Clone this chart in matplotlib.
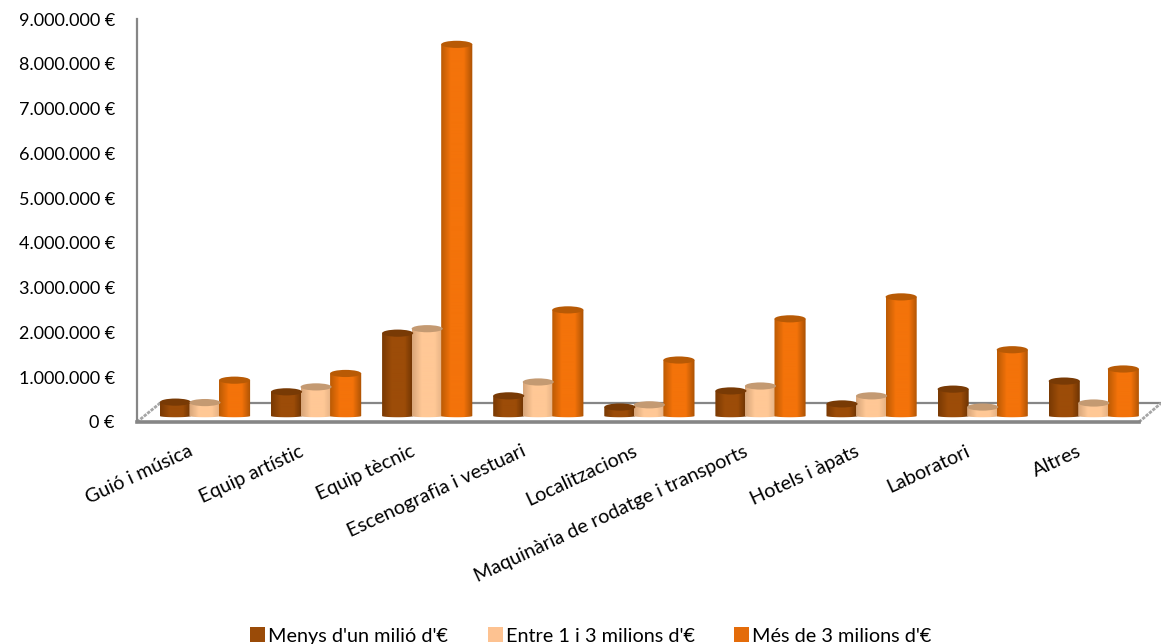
import numpy as np
import matplotlib
matplotlib.use('Agg')
import matplotlib.pyplot as plt
from matplotlib.colors import LinearSegmentedColormap
from matplotlib.patches import Ellipse, Polygon, Patch
from matplotlib.ticker import FuncFormatter
from matplotlib.transforms import ScaledTranslation

plt.rcParams['font.family'] = ['Lato', 'DejaVu Sans']

categories = ['Guió i música', 'Equip artístic', 'Equip tècnic', 'Escenografia i vestuari',
              'Localitzacions', 'Maquinària de rodatge i transports', 'Hotels i àpats',
              'Laboratori', 'Altres']
series_names = ["Menys d'un milió d'€", "Entre 1 i 3 milions d'€", "Més de 3 milions d'€"]
menys_1 = [310000, 540000, 1850000, 450000, 200000, 560000, 270000, 600000, 780000]
entre_1_3 = [300000, 650000, 1950000, 760000, 250000, 670000, 450000, 200000, 290000]
mes_3 = [800000, 950000, 8300000, 2370000, 1250000, 2170000, 2660000, 1480000, 1050000]
series = [menys_1, entre_1_3, mes_3]

# colours: left edge, centre, right edge, top of the cylinder
colors = [('#7a3a03', '#9c4c08', '#6a3202', '#783a05'),
          ('#d8a67a', '#ffc896', '#e0ae82', '#c49a72'),
          ('#bd5b04', '#f4730a', '#ad5304', '#b85a05')]
legend_colors = ['#9a4b08', '#fdc291', '#e46c0a']

W, H = 1161, 644
fig = plt.figure(figsize=(W / 100, H / 100), dpi=100)
ax = fig.add_axes([137 / W, (H - 422) / H, (W - 137) / W, 403 / H])
x0, x1 = -0.612, 8.605
ymax = 9000000
base = 134000      # cylinders stand a bit above the zero line (fake 3d)
bar_w = 0.28
step = 0.266
cap_h = 160000


def cylinder(x, value, cols):
    t = np.linspace(0, np.pi, 40)
    xs = np.cos(t) * bar_w / 2
    ys = np.sin(t) * cap_h / 2
    pts = np.vstack([np.column_stack([x + xs, base + value + ys * 0]),
                     np.column_stack([x + xs[::-1], base - ys[::-1] * 0.35])])
    cmap = LinearSegmentedColormap.from_list('c', [(0, cols[0]), (0.3, cols[1]), (0.72, cols[1]), (1, cols[2])])
    grad = np.linspace(0, 1, 32).reshape(1, -1)
    im = ax.imshow(grad, cmap=cmap, aspect='auto', zorder=3,
                   extent=(x - bar_w / 2, x + bar_w / 2, base - cap_h, base + value + cap_h))
    clip = Polygon(pts, closed=True, transform=ax.transData, facecolor='none', edgecolor='none')
    ax.add_patch(clip)
    im.set_clip_path(clip)
    ax.add_patch(Ellipse((x, base + value), bar_w, cap_h, facecolor=cols[3],
                         edgecolor='none', zorder=4))


# floor of the 3d chart
ax.plot([-0.405, 8.605], [420000, 420000], color='#868686', lw=1.6, zorder=1, clip_on=False)
ax.plot([x0, -0.405], [0, 420000], color='#a6a6a6', lw=2, ls=(0, (1.2, 0.4)), zorder=1, clip_on=False)
ax.plot([8.407, 8.605], [0, 420000], color='#a6a6a6', lw=2, ls=(0, (1.2, 0.4)), zorder=1, clip_on=False)

for i, cat in enumerate(categories):
    for j, vals in enumerate(series):
        cylinder(i + (j - 1) * step, vals[i], colors[j])

ax.set_xlim(x0, x1)
ax.set_ylim(0, ymax)
ax.set_yticks(np.arange(0, 9000001, 1000000))
ax.yaxis.set_major_formatter(FuncFormatter(lambda v, p: f'{int(v):,} €'.replace(',', '.')))
ax.tick_params(axis='y', length=0, labelsize=13, pad=16, labelcolor='black')
for lab in ax.get_yticklabels():
    lab.set_family(['Liberation Sans Narrow', 'Lato', 'DejaVu Sans'])
ax.set_xticks(range(len(categories)))
ax.set_xticklabels(categories, rotation=25, ha='right', va='top', rotation_mode='anchor', fontsize=14.2)
ax.tick_params(axis='x', length=0, pad=15)
offset = ScaledTranslation(-17 / 100, 0, fig.dpi_scale_trans)
for lab in ax.get_xticklabels():
    lab.set_transform(lab.get_transform() + offset)

for s in ['top', 'right']:
    ax.spines[s].set_visible(False)
ax.spines['left'].set_color('#868686')
ax.spines['left'].set_linewidth(1.6)
ax.spines['bottom'].set_color('#868686')
ax.spines['bottom'].set_linewidth(2.6)
ax.spines['bottom'].set_bounds(x0, 8.407)

handles = [Patch(facecolor=c, edgecolor='none', label=n) for c, n in zip(legend_colors, series_names)]
fig.legend(handles=handles, loc='center', bbox_to_anchor=(591 / W, (H - 636) / H), ncol=3, frameon=False,
           fontsize=14.3, handlelength=0.75, handleheight=0.75, handletextpad=0.15, columnspacing=2.0)

fig.savefig('out.png', dpi=100)
